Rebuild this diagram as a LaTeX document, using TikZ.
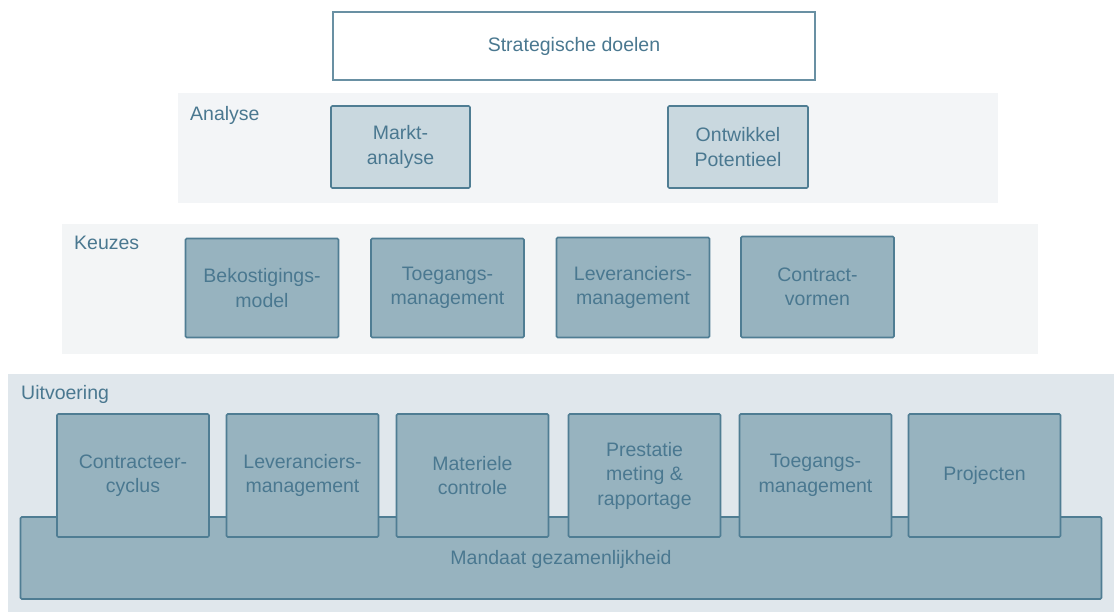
\documentclass[tikz,border=0pt]{standalone}
\usepackage{fontspec}
\setmainfont{Liberation Sans}
\definecolor{txt}{HTML}{4A7890}
\definecolor{edge}{HTML}{4F7D93}
\definecolor{darkfill}{HTML}{97B3BF}
\definecolor{lightfill}{HTML}{C9D8DF}
\definecolor{bandA}{HTML}{F3F5F7}
\definecolor{bandB}{HTML}{F3F5F6}
\definecolor{bandC}{HTML}{E0E7EC}
\begin{document}
\begin{tikzpicture}[x=1pt,y=-1pt,
  every node/.style={font=\fontsize{19.5}{24.5}\selectfont, text=txt},
  bandlabel/.style={anchor=base west, inner sep=0pt},
  darkbox/.style={draw=edge, line width=1.6pt, fill=darkfill, rounded corners=1.2pt, align=center, inner sep=2pt},
  lightbox/.style={darkbox, fill=lightfill},
  topbox/.style={draw=edge!85!white, line width=1.3pt, fill=white, align=center}
]
\useasboundingbox (0,0) rectangle (1114,614);
\fill[white] (0,0) rectangle (1114,614);

% bands
\fill[bandA] (178,93) rectangle (998,203);
\fill[bandB] (62,224) rectangle (1038,354);
\fill[bandC] (8,374) rectangle (1114,612);
\node[bandlabel] (lA) at (190,120) {Analyse};
\node[bandlabel] (lK) at (74,249) {Keuzes};
\node[bandlabel] (lU) at (21,399) {Uitvoering};

% top
\node[topbox, minimum width=482pt, minimum height=68pt] (sd) at (574,46) {Strategische doelen};

% analyse
\node[lightbox, minimum width=139pt, minimum height=82pt] (ma) at (400.5,147) {Markt-\\analyse};
\node[lightbox, minimum width=140pt, minimum height=82pt] (op) at (738,147) {Ontwikkel\\Potentieel};

% keuzes
\node[darkbox, minimum width=153pt, minimum height=99pt] (k1) at (262,288) {Bekostigings-\\model};
\node[darkbox, minimum width=153pt, minimum height=99pt] (k2) at (447.5,288) {Toegangs-\\management};
\node[darkbox, minimum width=153pt, minimum height=100pt] (k3) at (633,287.5) {Leveranciers-\\management};
\node[darkbox, minimum width=153pt, minimum height=101pt] (k4) at (817.5,287) {Contract-\\vormen};

% uitvoering
\node[darkbox, minimum width=1081pt, minimum height=82pt] (md) at (561,558) {};
\node (mdt) at (561,559) {Mandaat gezamenlijkheid};
\node[darkbox, minimum width=152pt, minimum height=123pt] (u1) at (133,475.5) {Contracteer-\\cyclus};
\node[darkbox, minimum width=152pt, minimum height=123pt] (u2) at (302.5,475.5) {Leveranciers-\\management};
\node[darkbox, minimum width=152pt, minimum height=123pt] (u3) at (472.5,475.5) {Materiele\\controle};
\node[darkbox, minimum width=152pt, minimum height=123pt] (u4) at (644.5,475.5) {Prestatie\\meting \&\\rapportage};
\node[darkbox, minimum width=152pt, minimum height=123pt] (u5) at (815.5,475.5) {Toegangs-\\management};
\node[darkbox, minimum width=152pt, minimum height=123pt] (u6) at (984.5,475.5) {Projecten};
\end{tikzpicture}
\end{document}
